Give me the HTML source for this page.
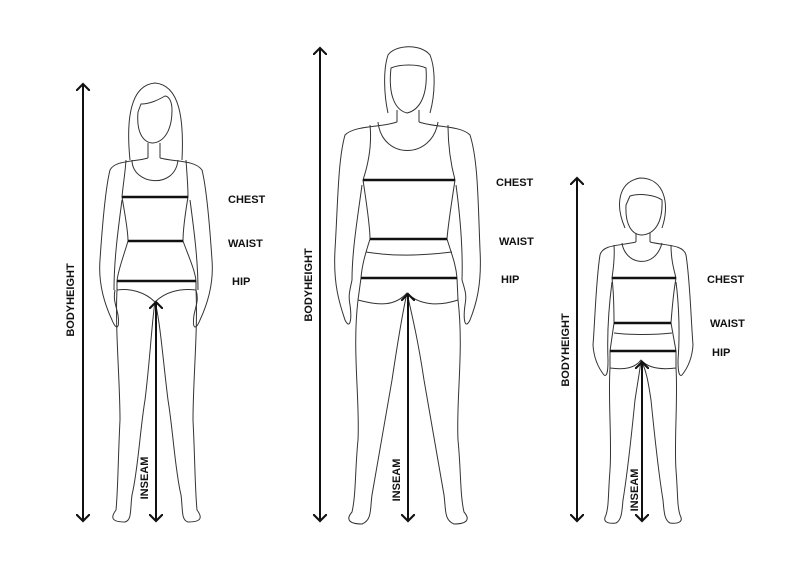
<!DOCTYPE html>
<html><head><meta charset="utf-8"><style>
html,body{margin:0;padding:0;background:#fff;}
svg{display:block;}
text{font-family:"Liberation Sans",sans-serif;font-weight:bold;font-size:11px;fill:#111;}
</style></head><body>
<svg width="804" height="579" viewBox="0 0 804 579" xmlns="http://www.w3.org/2000/svg">
<defs>
<marker id="a" viewBox="0 0 10 10" refX="5" refY="5" markerWidth="14" markerHeight="14" orient="auto-start-reverse" markerUnits="userSpaceOnUse">
<path d="M0,0 L5,5 L0,10" fill="none" stroke="#111" stroke-width="1.5"/></marker>
</defs>
<g fill="none" stroke="#333" stroke-width="1" stroke-linejoin="round">
<!-- WOMAN -->
<path d="M130,160 C126,120 130,85 155,83 C180,85 184,120 182,160"/>
<path d="M138,112 C136,135 145,143 153,143 C163,142 172,132 172,110 C172,100 168,96 165,96 C158,100 150,104 141,104 Z"/>
<path d="M148,143 L148,158 M160,143 L160,158"/>
<path d="M148,158 C135,162 115,160 110,170 C105,190 102,230 100,260 C98,285 105,305 112,320 C116,330 120,330 118,315 C116,305 113,300 115,290"/>
<path d="M160,158 C175,162 195,160 202,170 C207,190 210,230 212,260 C214,285 207,305 200,320 C196,330 192,330 194,315 C196,305 199,300 196,290"/>
<path d="M122,200 C118,230 114,260 114,290 M190,200 C194,230 198,260 198,290"/>
<path d="M126,160 C125,175 123,185 122,197 M186,160 C187,175 188,185 188,197"/>
<path d="M132,160 C132,185 175,190 178,160"/>
<path d="M122,197 C125,215 128,230 128,241 M188,197 C185,215 183,230 183,241"/>
<path d="M128,241 C124,255 118,270 117,281 M183,241 C188,255 195,270 196,281"/>
<path d="M117,281 L117,290 C130,288 145,292 155,302 C165,292 180,288 196,290 L196,281"/>
<path d="M117,290 C115,330 120,380 120,420 C118,460 118,490 116,510 C110,518 112,522 125,522 C132,520 130,510 132,495 C138,470 140,430 145,400 C150,360 152,320 155,302"/>
<path d="M196,290 C198,330 193,380 193,420 C195,460 195,490 197,510 C203,518 201,522 188,522 C181,520 183,510 181,495 C175,470 173,430 168,400 C163,360 160,320 155,302"/>
<!-- MAN -->
<path d="M388,113 C384,95 383,70 388,55 C395,45 420,43 430,55 C436,70 435,95 430,113"/>
<path d="M391,68 C388,95 395,110 407,113 C420,110 428,95 426,68 C418,64 400,64 391,68 Z"/>
<path d="M397,110 L397,122 M419,110 L419,122"/>
<path d="M397,122 C380,128 355,125 345,135 C338,160 338,200 335,250 C333,285 340,305 345,320 C350,330 352,320 350,305 C348,295 350,290 352,280"/>
<path d="M419,122 C436,128 460,125 470,135 C478,160 478,200 480,250 C482,285 476,305 470,320 C465,330 463,320 465,305 C467,295 465,290 462,280"/>
<path d="M362,185 C358,215 352,250 352,280 M456,185 C460,215 463,250 462,280"/>
<path d="M370,125 C372,145 368,165 363,180 M448,125 C448,145 451,165 455,180"/>
<path d="M378,122 C382,160 432,160 438,122"/>
<path d="M363,180 C366,200 370,225 370,239 M455,180 C452,200 448,225 447,239"/>
<path d="M370,239 C365,255 362,265 361,278 M447,239 C452,255 456,265 457,278"/>
<path d="M366,252 C390,256 420,256 452,252"/>
<path d="M361,278 L358,300 C380,306 395,306 407,293 C420,306 440,306 458,300 L457,278"/>
<path d="M358,300 C352,350 360,400 358,440 C355,470 356,495 352,512 C345,520 350,524 362,524 C372,520 370,510 372,495 C378,460 385,420 392,380 C398,340 402,315 407,293"/>
<path d="M458,300 C464,350 456,400 458,440 C461,470 460,495 464,512 C471,520 466,524 454,524 C444,520 446,510 444,495 C438,460 431,420 424,380 C418,340 412,315 407,293"/>
<!-- CHILD -->
<path d="M625,228 C615,205 618,182 640,178 C665,178 670,205 662,228"/>
<path d="M626,205 C625,225 632,235 642,235 C655,234 663,222 662,200 C655,195 640,193 630,196 Z"/>
<path d="M636,233 L636,242 M650,233 L650,242"/>
<path d="M636,242 C620,246 603,244 600,255 C596,280 595,320 593,345 C594,360 600,370 604,375 C608,378 608,365 608,360"/>
<path d="M650,242 C666,246 683,244 686,255 C690,280 691,320 693,345 C692,360 686,370 682,375 C678,378 678,365 678,360"/>
<path d="M612,282 C609,305 607,335 608,360 M676,282 C679,305 680,335 678,360"/>
<path d="M614,245 C615,260 613,270 612,278 M671,245 C671,260 674,270 676,278"/>
<path d="M622,243 C625,265 655,270 662,243"/>
<path d="M612,278 C614,295 614,310 614,323 M676,278 C673,295 672,310 671,323"/>
<path d="M614,323 L610,351 M671,323 L676,351"/>
<path d="M614,333 C630,335 655,335 672,333"/>
<path d="M610,351 L610,368 C625,370 635,368 641,360 C648,368 660,370 676,368 L676,351"/>
<path d="M610,368 C608,400 612,440 610,470 C608,495 609,505 606,515 C602,522 608,524 616,523 C622,520 622,510 623,500 C628,470 632,430 635,400 C638,380 640,370 641,360"/>
<path d="M676,368 C678,400 674,440 676,470 C678,495 677,505 680,515 C684,522 678,524 670,523 C664,520 664,510 663,500 C658,470 654,430 651,400 C648,380 646,370 641,360"/>
</g>
<g stroke="#111" stroke-width="2.6">
<line x1="122" y1="197" x2="188" y2="197"/>
<line x1="128" y1="241" x2="183" y2="241"/>
<line x1="117" y1="281" x2="196" y2="281"/>
<line x1="363" y1="180" x2="455" y2="180"/>
<line x1="370" y1="239" x2="447" y2="239"/>
<line x1="361" y1="278" x2="457" y2="278"/>
<line x1="612" y1="278" x2="676" y2="278"/>
<line x1="614" y1="323" x2="671" y2="323"/>
<line x1="610" y1="351" x2="676" y2="351"/>
</g>
<g stroke="#111" stroke-width="2" marker-start="url(#a)" marker-end="url(#a)">
<line x1="83" y1="84" x2="83" y2="521"/>
<line x1="156" y1="302" x2="156" y2="521"/>
<line x1="320" y1="48" x2="320" y2="521"/>
<line x1="408" y1="294" x2="408" y2="521"/>
<line x1="577" y1="178" x2="577" y2="521"/>
<line x1="642" y1="362" x2="642" y2="521"/>
</g>
<text x="228" y="203">CHEST</text>
<text x="228" y="247">WAIST</text>
<text x="232" y="285">HIP</text>
<text x="496" y="186">CHEST</text>
<text x="499" y="245">WAIST</text>
<text x="501" y="283">HIP</text>
<text x="707" y="283">CHEST</text>
<text x="710" y="327">WAIST</text>
<text x="712" y="356">HIP</text>
<text transform="translate(74,300) rotate(-90)" text-anchor="middle">BODYHEIGHT</text>
<text transform="translate(312,285) rotate(-90)" text-anchor="middle">BODYHEIGHT</text>
<text transform="translate(569,350) rotate(-90)" text-anchor="middle">BODYHEIGHT</text>
<text transform="translate(148,478) rotate(-90)" text-anchor="middle">INSEAM</text>
<text transform="translate(400,480) rotate(-90)" text-anchor="middle">INSEAM</text>
<text transform="translate(638,490) rotate(-90)" text-anchor="middle">INSEAM</text>
</svg>
</body></html>
